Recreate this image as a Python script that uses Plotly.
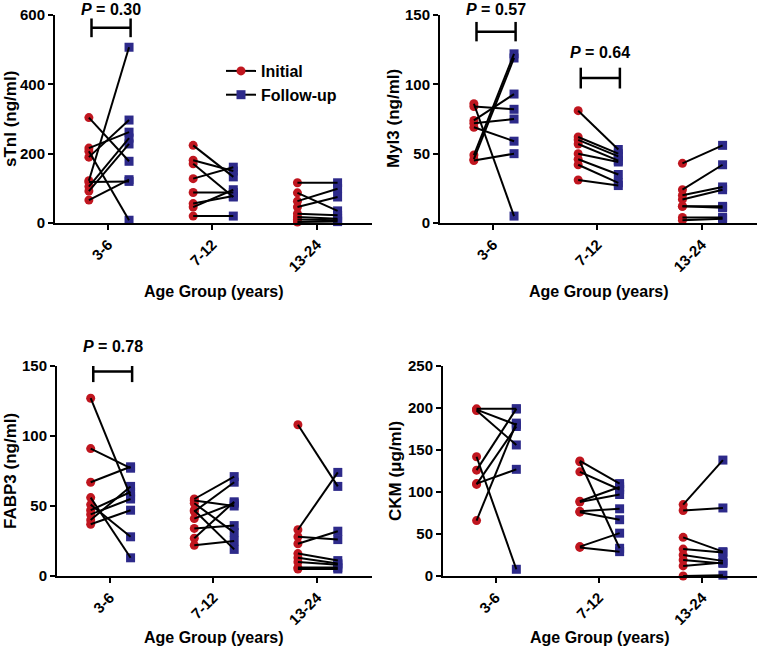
import plotly.graph_objects as go

age_groups = ["3-6", "7-12", "13-24"]

# sTnI (ng/ml): per age group, paired initial / follow-up values
stni_initial = [[304, 216, 207, 190, 122, 118, 105, 92, 66],
                [224, 181, 171, 128, 88, 56, 46, 20],
                [116, 87, 63, 46, 27, 17, 10, 3]]
stni_follow = [[178, 262, 8, 297, 507, 120, 245, 228, 125],
               [133, 150, 75, 161, 88, 78, 96, 20],
               [116, 35, 99, 75, 22, 12, 8, 4]]

# Myl3 (ng/ml)
myl3_initial = [[86, 84, 74, 72, 69, 49, 46, 45],
                [81, 62, 60, 57, 50, 46, 42, 31],
                [43, 24, 20, 17, 12, 12, 4, 2]]
myl3_follow = [[5, 82, 93, 75, 59, 122, 119, 50],
               [53, 50, 48, 45, 44, 35, 29, 27],
               [56, 42, 26, 24, 12, 11, 4, 3]]

# FABP3 (ng/ml)
fabp3_initial = [[127, 91, 67, 56, 51, 47, 44, 40, 37],
                 [55, 54, 52, 47, 46, 41, 34, 27, 22],
                 [108, 33, 28, 23, 16, 13, 10, 6, 5]]
fabp3_follow = [[57, 77, 78, 13, 28, 60, 55, 64, 47],
                [71, 50, 31, 19, 67, 52, 36, 53, 25],
                [64, 74, 26, 32, 11, 9, 8, 6, 5]]

# CKM (ug/ml)
ckm_initial = [[199, 198, 197, 142, 126, 110, 109, 66],
               [137, 136, 124, 89, 88, 77, 76, 35, 34],
               [85, 78, 46, 32, 25, 19, 12, 0]]
ckm_follow = [[199, 180, 156, 8, 199, 127, 178, 182],
              [110, 33, 103, 106, 97, 80, 67, 51, 29],
              [138, 81, 29, 28, 18, 15, 16, 1]]

y_titles = ["sTnI (ng/ml)", "Myl3 (ng/ml)", "FABP3 (ng/ml)", "CKM (\u03bcg/ml)"]
y_ranges = [[0, 600], [0, 150], [0, 150], [0, 250]]
y_dticks = [200, 50, 50, 50]
x_title = "Age Group (years)"

# p-value brackets: (panel, group index, label)
p_panels = [0, 1, 1, 2]
p_groups = [0, 0, 1, 0]
p_labels = ["0.30", "0.57", "0.64", "0.78"]
# bracket geometry (style): bracket line y in data units, half height, label offset in px
p_bracket_y = [563, 138, 104.5, 146]
p_bracket_h = [27, 7, 7.5, 7.5]
p_label_shift = [18, 22, 26, 25]

RED = "#c0161f"
BLUE = "#2d2a8a"
OFF_I = -0.185
OFF_F = 0.2
FONT = "Liberation Sans, Arial, sans-serif"

W, H = 759, 653
# plot areas in pixels: (left, right, top, bottom)
boxes = [(55, 372, 15, 223), (440, 757, 15, 223), (57, 372, 366, 576), (443, 757, 366, 576)]
# axis-title positions in pixels: (y-title x, x-title y)
title_pos = [(10, 291), (393, 291), (10, 637), (395, 637)]

panels = [(stni_initial, stni_follow), (myl3_initial, myl3_follow),
          (fabp3_initial, fabp3_follow), (ckm_initial, ckm_follow)]

fig = go.Figure()
layout = dict(width=W, height=H, margin=dict(l=0, r=0, t=0, b=0, autoexpand=False),
              paper_bgcolor="white", plot_bgcolor="white",
              font=dict(family=FONT, color="black"), showlegend=True)
shapes = []
annotations = []

for p, (ini, fol) in enumerate(panels):
    sfx = "" if p == 0 else str(p + 1)
    xa, ya = "x" + sfx, "y" + sfx
    xi, yi, xf, yf, lx, ly = [], [], [], [], [], []
    for g in range(len(age_groups)):
        for a, b in zip(ini[g], fol[g]):
            xi.append(g + OFF_I); yi.append(a)
            xf.append(g + OFF_F); yf.append(b)
            lx += [g + OFF_I, g + OFF_F, None]
            ly += [a, b, None]
    fig.add_trace(go.Scatter(x=xi, y=yi, mode="markers", xaxis=xa, yaxis=ya,
                             marker=dict(symbol="circle", size=9, color=RED),
                             cliponaxis=False, showlegend=False, hoverinfo="skip"))
    fig.add_trace(go.Scatter(x=xf, y=yf, mode="markers", xaxis=xa, yaxis=ya,
                             marker=dict(symbol="square", size=9, color=BLUE),
                             cliponaxis=False, showlegend=False, hoverinfo="skip"))
    fig.add_trace(go.Scatter(x=lx, y=ly, mode="lines", xaxis=xa, yaxis=ya,
                             line=dict(color="black", width=2),
                             showlegend=False, hoverinfo="skip"))
    l, r, t, b = boxes[p]
    layout["xaxis" + sfx] = dict(
        domain=[l / W, r / W], anchor=ya, range=[-0.51, 2.53], automargin=False,
        tickmode="array", tickvals=list(range(len(age_groups))), ticktext=age_groups,
        tickangle=-45, showline=True, linecolor="black", linewidth=2,
        ticks="outside", ticklen=5, tickwidth=2, tickcolor="black",
        showgrid=False, zeroline=False,
        tickfont=dict(size=15, family=FONT, weight="bold"))
    layout["yaxis" + sfx] = dict(
        domain=[1 - b / H, 1 - t / H], anchor=xa, range=y_ranges[p], dtick=y_dticks[p],
        automargin=False, showline=True, linecolor="black", linewidth=2,
        ticks="outside", ticklen=5, tickwidth=2, tickcolor="black",
        showgrid=False, zeroline=False,
        tickfont=dict(size=15, family=FONT, weight="bold"))
    ytx, xty = title_pos[p]
    annotations.append(dict(xref="paper", yref="paper", x=ytx / W, y=1 - (t + b) / 2 / H,
                            text="<b>" + y_titles[p] + "</b>", textangle=-90, showarrow=False,
                            font=dict(size=17, family=FONT), xanchor="center", yanchor="middle"))
    annotations.append(dict(xref="paper", yref="paper", x=(l + r) / 2 / W, y=1 - xty / H,
                            text="<b>" + x_title + "</b>", showarrow=False,
                            font=dict(size=16, family=FONT), xanchor="center", yanchor="middle"))

for p, g, lab, by, bh, sh in zip(p_panels, p_groups, p_labels, p_bracket_y, p_bracket_h, p_label_shift):
    sfx = "" if p == 0 else str(p + 1)
    x0, x1 = g - 0.16, g + 0.215
    for (a0, b0, a1, b1) in [(x0, by, x1, by), (x0, by - bh, x0, by + bh), (x1, by - bh, x1, by + bh)]:
        shapes.append(dict(type="line", xref="x" + sfx, yref="y" + sfx,
                           x0=a0, y0=b0, x1=a1, y1=b1,
                           line=dict(color="black", width=2.5)))
    annotations.append(dict(xref="x" + sfx, yref="y" + sfx, x=(x0 + x1) / 2, y=by,
                            text="<b><i>P</i> = " + lab + "</b>", showarrow=False,
                            font=dict(size=16, family=FONT), yanchor="middle", yshift=sh,
                            borderpad=0))

# legend entries
fig.add_trace(go.Scatter(x=[None], y=[None], mode="lines+markers", name="Initial",
                         line=dict(color="black", width=2),
                         marker=dict(symbol="circle", size=9, color=RED)))
fig.add_trace(go.Scatter(x=[None], y=[None], mode="lines+markers", name="Follow-up",
                         line=dict(color="black", width=2),
                         marker=dict(symbol="square", size=9, color=BLUE)))

layout["legend"] = dict(x=221 / W, y=1 - 54 / H, xanchor="left", yanchor="top",
                        bgcolor="rgba(0,0,0,0)", font=dict(size=16, family=FONT, weight="bold"),
                        itemwidth=30, tracegroupgap=0)
layout["shapes"] = shapes
layout["annotations"] = annotations
fig.update_layout(**layout)
fig.write_html("out.html", config={"displayModeBar": False},
               post_script="document.body.style.margin='0px';")
